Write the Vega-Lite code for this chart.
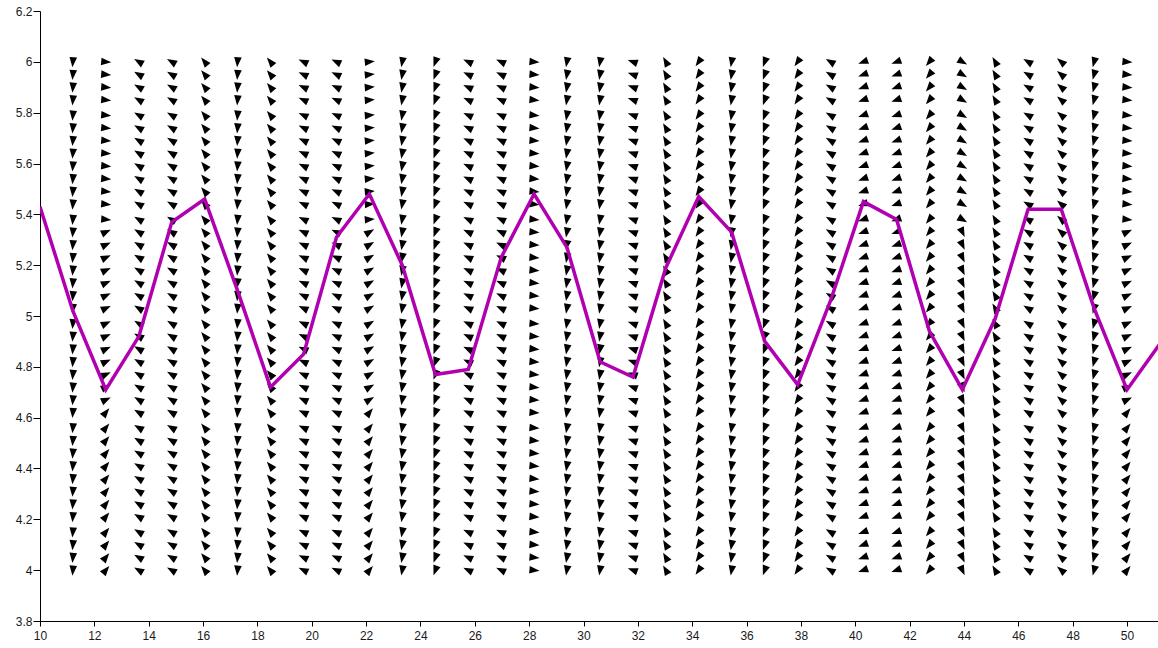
{
"$schema":"https://vega.github.io/schema/vega-lite/v6.json",
"width":1118,"height":610,
"autosize":{"type":"none"},
"padding":{"left":40,"top":11,"right":0,"bottom":27},
"background":"white",
"config":{"view":{"stroke":null},"axis":{"labelFont":"Liberation Sans","labelFontSize":12,"labelColor":"#1a1a1a","domainColor":"#000","domainWidth":1,"tickColor":"#000","tickWidth":1,"grid":false,"title":null,"labelOverlap":false,"labelFlush":false}},
"datasets":{
"curve":[{"x":10,"y":5.43},{"x":11.21,"y":5.02},{"x":12.42,"y":4.71},{"x":13.64,"y":4.92},{"x":14.85,"y":5.37},{"x":16.06,"y":5.46},{"x":17.27,"y":5.1},{"x":18.48,"y":4.72},{"x":19.7,"y":4.85},{"x":20.91,"y":5.31},{"x":22.12,"y":5.48},{"x":23.33,"y":5.2},{"x":24.55,"y":4.77},{"x":25.76,"y":4.79},{"x":26.97,"y":5.23},{"x":28.18,"y":5.48},{"x":29.39,"y":5.27},{"x":30.61,"y":4.82},{"x":31.82,"y":4.76},{"x":33.03,"y":5.19},{"x":34.24,"y":5.47},{"x":35.45,"y":5.33},{"x":36.67,"y":4.9},{"x":37.88,"y":4.73},{"x":39.09,"y":5.06},{"x":40.3,"y":5.45},{"x":41.52,"y":5.38},{"x":42.73,"y":4.94},{"x":43.94,"y":4.71},{"x":45.15,"y":4.99},{"x":46.36,"y":5.42},{"x":47.58,"y":5.42},{"x":48.79,"y":5.03},{"x":50,"y":4.71},{"x":51.21,"y":4.89}],
"arrows":[
{"x":11.21,"y":4,"a":185},{"x":11.21,"y":4.05,"a":185},{"x":11.21,"y":4.1,"a":185},{"x":11.21,"y":4.15,"a":185},{"x":11.21,"y":4.21,"a":185},{"x":11.21,"y":4.26,"a":185},{"x":11.21,"y":4.31,"a":185},{"x":11.21,"y":4.36,"a":185},{"x":11.21,"y":4.41,"a":185},{"x":11.21,"y":4.46,"a":185},{"x":11.21,"y":4.51,"a":185},{"x":11.21,"y":4.56,"a":185},{"x":11.21,"y":4.62,"a":185},{"x":11.21,"y":4.67,"a":185},{"x":11.21,"y":4.72,"a":185},{"x":11.21,"y":4.77,"a":185},{"x":11.21,"y":4.82,"a":185},{"x":11.21,"y":4.87,"a":185},{"x":11.21,"y":4.92,"a":185},{"x":11.21,"y":4.97,"a":185},{"x":11.21,"y":5.03,"a":185},{"x":11.21,"y":5.08,"a":185},{"x":11.21,"y":5.13,"a":185},{"x":11.21,"y":5.18,"a":185},{"x":11.21,"y":5.23,"a":185},{"x":11.21,"y":5.28,"a":185},{"x":11.21,"y":5.33,"a":185},{"x":11.21,"y":5.38,"a":185},{"x":11.21,"y":5.44,"a":185},{"x":11.21,"y":5.49,"a":185},{"x":11.21,"y":5.54,"a":185},{"x":11.21,"y":5.59,"a":185},{"x":11.21,"y":5.64,"a":185},{"x":11.21,"y":5.69,"a":185},{"x":11.21,"y":5.74,"a":185},{"x":11.21,"y":5.79,"a":185},{"x":11.21,"y":5.85,"a":185},{"x":11.21,"y":5.9,"a":185},{"x":11.21,"y":5.95,"a":185},{"x":11.21,"y":6,"a":185},
{"x":12.42,"y":4,"a":40},{"x":12.42,"y":4.05,"a":40},{"x":12.42,"y":4.1,"a":40},{"x":12.42,"y":4.15,"a":40},{"x":12.42,"y":4.21,"a":40},{"x":12.42,"y":4.26,"a":40},{"x":12.42,"y":4.31,"a":40},{"x":12.42,"y":4.36,"a":40},{"x":12.42,"y":4.41,"a":40},{"x":12.42,"y":4.46,"a":40},{"x":12.42,"y":4.51,"a":40},{"x":12.42,"y":4.56,"a":40},{"x":12.42,"y":4.62,"a":40},{"x":12.42,"y":4.67,"a":65},{"x":12.42,"y":4.72,"a":65},{"x":12.42,"y":4.77,"a":65},{"x":12.42,"y":4.82,"a":65},{"x":12.42,"y":4.87,"a":65},{"x":12.42,"y":4.92,"a":65},{"x":12.42,"y":4.97,"a":65},{"x":12.42,"y":5.03,"a":65},{"x":12.42,"y":5.08,"a":65},{"x":12.42,"y":5.13,"a":65},{"x":12.42,"y":5.18,"a":65},{"x":12.42,"y":5.23,"a":65},{"x":12.42,"y":5.28,"a":65},{"x":12.42,"y":5.33,"a":65},{"x":12.42,"y":5.38,"a":95},{"x":12.42,"y":5.44,"a":95},{"x":12.42,"y":5.49,"a":95},{"x":12.42,"y":5.54,"a":95},{"x":12.42,"y":5.59,"a":95},{"x":12.42,"y":5.64,"a":95},{"x":12.42,"y":5.69,"a":95},{"x":12.42,"y":5.74,"a":95},{"x":12.42,"y":5.79,"a":95},{"x":12.42,"y":5.85,"a":95},{"x":12.42,"y":5.9,"a":95},{"x":12.42,"y":5.95,"a":95},{"x":12.42,"y":6,"a":95},
{"x":13.64,"y":4,"a":300},{"x":13.64,"y":4.05,"a":300},{"x":13.64,"y":4.1,"a":300},{"x":13.64,"y":4.15,"a":300},{"x":13.64,"y":4.21,"a":300},{"x":13.64,"y":4.26,"a":300},{"x":13.64,"y":4.31,"a":300},{"x":13.64,"y":4.36,"a":300},{"x":13.64,"y":4.41,"a":300},{"x":13.64,"y":4.46,"a":300},{"x":13.64,"y":4.51,"a":300},{"x":13.64,"y":4.56,"a":300},{"x":13.64,"y":4.62,"a":300},{"x":13.64,"y":4.67,"a":300},{"x":13.64,"y":4.72,"a":300},{"x":13.64,"y":4.77,"a":300},{"x":13.64,"y":4.82,"a":300},{"x":13.64,"y":4.87,"a":300},{"x":13.64,"y":4.92,"a":300},{"x":13.64,"y":4.97,"a":300},{"x":13.64,"y":5.03,"a":300},{"x":13.64,"y":5.08,"a":300},{"x":13.64,"y":5.13,"a":300},{"x":13.64,"y":5.18,"a":300},{"x":13.64,"y":5.23,"a":300},{"x":13.64,"y":5.28,"a":300},{"x":13.64,"y":5.33,"a":300},{"x":13.64,"y":5.38,"a":300},{"x":13.64,"y":5.44,"a":300},{"x":13.64,"y":5.49,"a":300},{"x":13.64,"y":5.54,"a":300},{"x":13.64,"y":5.59,"a":300},{"x":13.64,"y":5.64,"a":300},{"x":13.64,"y":5.69,"a":300},{"x":13.64,"y":5.74,"a":300},{"x":13.64,"y":5.79,"a":300},{"x":13.64,"y":5.85,"a":300},{"x":13.64,"y":5.9,"a":300},{"x":13.64,"y":5.95,"a":300},{"x":13.64,"y":6,"a":300},
{"x":14.85,"y":4,"a":300},{"x":14.85,"y":4.05,"a":300},{"x":14.85,"y":4.1,"a":300},{"x":14.85,"y":4.15,"a":300},{"x":14.85,"y":4.21,"a":300},{"x":14.85,"y":4.26,"a":300},{"x":14.85,"y":4.31,"a":300},{"x":14.85,"y":4.36,"a":300},{"x":14.85,"y":4.41,"a":300},{"x":14.85,"y":4.46,"a":300},{"x":14.85,"y":4.51,"a":300},{"x":14.85,"y":4.56,"a":300},{"x":14.85,"y":4.62,"a":300},{"x":14.85,"y":4.67,"a":300},{"x":14.85,"y":4.72,"a":300},{"x":14.85,"y":4.77,"a":300},{"x":14.85,"y":4.82,"a":300},{"x":14.85,"y":4.87,"a":300},{"x":14.85,"y":4.92,"a":300},{"x":14.85,"y":4.97,"a":300},{"x":14.85,"y":5.03,"a":300},{"x":14.85,"y":5.08,"a":300},{"x":14.85,"y":5.13,"a":300},{"x":14.85,"y":5.18,"a":300},{"x":14.85,"y":5.23,"a":300},{"x":14.85,"y":5.28,"a":300},{"x":14.85,"y":5.33,"a":300},{"x":14.85,"y":5.38,"a":300},{"x":14.85,"y":5.44,"a":300},{"x":14.85,"y":5.49,"a":300},{"x":14.85,"y":5.54,"a":300},{"x":14.85,"y":5.59,"a":300},{"x":14.85,"y":5.64,"a":300},{"x":14.85,"y":5.69,"a":300},{"x":14.85,"y":5.74,"a":300},{"x":14.85,"y":5.79,"a":300},{"x":14.85,"y":5.85,"a":300},{"x":14.85,"y":5.9,"a":300},{"x":14.85,"y":5.95,"a":300},{"x":14.85,"y":6,"a":300},
{"x":16.06,"y":4,"a":320},{"x":16.06,"y":4.05,"a":320},{"x":16.06,"y":4.1,"a":320},{"x":16.06,"y":4.15,"a":320},{"x":16.06,"y":4.21,"a":320},{"x":16.06,"y":4.26,"a":320},{"x":16.06,"y":4.31,"a":320},{"x":16.06,"y":4.36,"a":320},{"x":16.06,"y":4.41,"a":320},{"x":16.06,"y":4.46,"a":320},{"x":16.06,"y":4.51,"a":320},{"x":16.06,"y":4.56,"a":320},{"x":16.06,"y":4.62,"a":320},{"x":16.06,"y":4.67,"a":320},{"x":16.06,"y":4.72,"a":320},{"x":16.06,"y":4.77,"a":320},{"x":16.06,"y":4.82,"a":320},{"x":16.06,"y":4.87,"a":320},{"x":16.06,"y":4.92,"a":320},{"x":16.06,"y":4.97,"a":320},{"x":16.06,"y":5.03,"a":320},{"x":16.06,"y":5.08,"a":320},{"x":16.06,"y":5.13,"a":320},{"x":16.06,"y":5.18,"a":320},{"x":16.06,"y":5.23,"a":320},{"x":16.06,"y":5.28,"a":320},{"x":16.06,"y":5.33,"a":320},{"x":16.06,"y":5.38,"a":320},{"x":16.06,"y":5.44,"a":320},{"x":16.06,"y":5.49,"a":320},{"x":16.06,"y":5.54,"a":320},{"x":16.06,"y":5.59,"a":320},{"x":16.06,"y":5.64,"a":320},{"x":16.06,"y":5.69,"a":320},{"x":16.06,"y":5.74,"a":320},{"x":16.06,"y":5.79,"a":320},{"x":16.06,"y":5.85,"a":320},{"x":16.06,"y":5.9,"a":320},{"x":16.06,"y":5.95,"a":320},{"x":16.06,"y":6,"a":320},
{"x":17.27,"y":4,"a":185},{"x":17.27,"y":4.05,"a":185},{"x":17.27,"y":4.1,"a":185},{"x":17.27,"y":4.15,"a":185},{"x":17.27,"y":4.21,"a":185},{"x":17.27,"y":4.26,"a":185},{"x":17.27,"y":4.31,"a":185},{"x":17.27,"y":4.36,"a":185},{"x":17.27,"y":4.41,"a":185},{"x":17.27,"y":4.46,"a":185},{"x":17.27,"y":4.51,"a":185},{"x":17.27,"y":4.56,"a":185},{"x":17.27,"y":4.62,"a":185},{"x":17.27,"y":4.67,"a":185},{"x":17.27,"y":4.72,"a":185},{"x":17.27,"y":4.77,"a":185},{"x":17.27,"y":4.82,"a":185},{"x":17.27,"y":4.87,"a":185},{"x":17.27,"y":4.92,"a":185},{"x":17.27,"y":4.97,"a":185},{"x":17.27,"y":5.03,"a":185},{"x":17.27,"y":5.08,"a":185},{"x":17.27,"y":5.13,"a":185},{"x":17.27,"y":5.18,"a":185},{"x":17.27,"y":5.23,"a":185},{"x":17.27,"y":5.28,"a":185},{"x":17.27,"y":5.33,"a":185},{"x":17.27,"y":5.38,"a":185},{"x":17.27,"y":5.44,"a":185},{"x":17.27,"y":5.49,"a":185},{"x":17.27,"y":5.54,"a":185},{"x":17.27,"y":5.59,"a":185},{"x":17.27,"y":5.64,"a":185},{"x":17.27,"y":5.69,"a":185},{"x":17.27,"y":5.74,"a":185},{"x":17.27,"y":5.79,"a":185},{"x":17.27,"y":5.85,"a":185},{"x":17.27,"y":5.9,"a":185},{"x":17.27,"y":5.95,"a":185},{"x":17.27,"y":6,"a":185},
{"x":18.48,"y":4,"a":320},{"x":18.48,"y":4.05,"a":320},{"x":18.48,"y":4.1,"a":320},{"x":18.48,"y":4.15,"a":320},{"x":18.48,"y":4.21,"a":320},{"x":18.48,"y":4.26,"a":320},{"x":18.48,"y":4.31,"a":320},{"x":18.48,"y":4.36,"a":320},{"x":18.48,"y":4.41,"a":320},{"x":18.48,"y":4.46,"a":320},{"x":18.48,"y":4.51,"a":320},{"x":18.48,"y":4.56,"a":320},{"x":18.48,"y":4.62,"a":320},{"x":18.48,"y":4.67,"a":320},{"x":18.48,"y":4.72,"a":320},{"x":18.48,"y":4.77,"a":320},{"x":18.48,"y":4.82,"a":320},{"x":18.48,"y":4.87,"a":320},{"x":18.48,"y":4.92,"a":320},{"x":18.48,"y":4.97,"a":320},{"x":18.48,"y":5.03,"a":320},{"x":18.48,"y":5.08,"a":320},{"x":18.48,"y":5.13,"a":320},{"x":18.48,"y":5.18,"a":320},{"x":18.48,"y":5.23,"a":320},{"x":18.48,"y":5.28,"a":320},{"x":18.48,"y":5.33,"a":320},{"x":18.48,"y":5.38,"a":320},{"x":18.48,"y":5.44,"a":320},{"x":18.48,"y":5.49,"a":320},{"x":18.48,"y":5.54,"a":320},{"x":18.48,"y":5.59,"a":320},{"x":18.48,"y":5.64,"a":320},{"x":18.48,"y":5.69,"a":320},{"x":18.48,"y":5.74,"a":320},{"x":18.48,"y":5.79,"a":320},{"x":18.48,"y":5.85,"a":320},{"x":18.48,"y":5.9,"a":320},{"x":18.48,"y":5.95,"a":320},{"x":18.48,"y":6,"a":320},
{"x":19.7,"y":4,"a":295},{"x":19.7,"y":4.05,"a":295},{"x":19.7,"y":4.1,"a":295},{"x":19.7,"y":4.15,"a":295},{"x":19.7,"y":4.21,"a":295},{"x":19.7,"y":4.26,"a":295},{"x":19.7,"y":4.31,"a":295},{"x":19.7,"y":4.36,"a":295},{"x":19.7,"y":4.41,"a":295},{"x":19.7,"y":4.46,"a":295},{"x":19.7,"y":4.51,"a":295},{"x":19.7,"y":4.56,"a":295},{"x":19.7,"y":4.62,"a":295},{"x":19.7,"y":4.67,"a":295},{"x":19.7,"y":4.72,"a":295},{"x":19.7,"y":4.77,"a":295},{"x":19.7,"y":4.82,"a":295},{"x":19.7,"y":4.87,"a":295},{"x":19.7,"y":4.92,"a":295},{"x":19.7,"y":4.97,"a":295},{"x":19.7,"y":5.03,"a":295},{"x":19.7,"y":5.08,"a":295},{"x":19.7,"y":5.13,"a":295},{"x":19.7,"y":5.18,"a":295},{"x":19.7,"y":5.23,"a":295},{"x":19.7,"y":5.28,"a":295},{"x":19.7,"y":5.33,"a":295},{"x":19.7,"y":5.38,"a":295},{"x":19.7,"y":5.44,"a":295},{"x":19.7,"y":5.49,"a":295},{"x":19.7,"y":5.54,"a":295},{"x":19.7,"y":5.59,"a":295},{"x":19.7,"y":5.64,"a":295},{"x":19.7,"y":5.69,"a":295},{"x":19.7,"y":5.74,"a":295},{"x":19.7,"y":5.79,"a":295},{"x":19.7,"y":5.85,"a":295},{"x":19.7,"y":5.9,"a":295},{"x":19.7,"y":5.95,"a":295},{"x":19.7,"y":6,"a":295},
{"x":20.91,"y":4,"a":295},{"x":20.91,"y":4.05,"a":295},{"x":20.91,"y":4.1,"a":295},{"x":20.91,"y":4.15,"a":295},{"x":20.91,"y":4.21,"a":295},{"x":20.91,"y":4.26,"a":295},{"x":20.91,"y":4.31,"a":295},{"x":20.91,"y":4.36,"a":295},{"x":20.91,"y":4.41,"a":295},{"x":20.91,"y":4.46,"a":295},{"x":20.91,"y":4.51,"a":295},{"x":20.91,"y":4.56,"a":295},{"x":20.91,"y":4.62,"a":295},{"x":20.91,"y":4.67,"a":295},{"x":20.91,"y":4.72,"a":295},{"x":20.91,"y":4.77,"a":295},{"x":20.91,"y":4.82,"a":295},{"x":20.91,"y":4.87,"a":295},{"x":20.91,"y":4.92,"a":295},{"x":20.91,"y":4.97,"a":295},{"x":20.91,"y":5.03,"a":295},{"x":20.91,"y":5.08,"a":295},{"x":20.91,"y":5.13,"a":295},{"x":20.91,"y":5.18,"a":295},{"x":20.91,"y":5.23,"a":295},{"x":20.91,"y":5.28,"a":295},{"x":20.91,"y":5.33,"a":295},{"x":20.91,"y":5.38,"a":295},{"x":20.91,"y":5.44,"a":295},{"x":20.91,"y":5.49,"a":295},{"x":20.91,"y":5.54,"a":295},{"x":20.91,"y":5.59,"a":295},{"x":20.91,"y":5.64,"a":295},{"x":20.91,"y":5.69,"a":295},{"x":20.91,"y":5.74,"a":295},{"x":20.91,"y":5.79,"a":295},{"x":20.91,"y":5.85,"a":295},{"x":20.91,"y":5.9,"a":295},{"x":20.91,"y":5.95,"a":295},{"x":20.91,"y":6,"a":295},
{"x":22.12,"y":4,"a":40},{"x":22.12,"y":4.05,"a":40},{"x":22.12,"y":4.1,"a":40},{"x":22.12,"y":4.15,"a":40},{"x":22.12,"y":4.21,"a":40},{"x":22.12,"y":4.26,"a":40},{"x":22.12,"y":4.31,"a":40},{"x":22.12,"y":4.36,"a":40},{"x":22.12,"y":4.41,"a":40},{"x":22.12,"y":4.46,"a":40},{"x":22.12,"y":4.51,"a":40},{"x":22.12,"y":4.56,"a":40},{"x":22.12,"y":4.62,"a":40},{"x":22.12,"y":4.67,"a":60},{"x":22.12,"y":4.72,"a":60},{"x":22.12,"y":4.77,"a":60},{"x":22.12,"y":4.82,"a":60},{"x":22.12,"y":4.87,"a":60},{"x":22.12,"y":4.92,"a":60},{"x":22.12,"y":4.97,"a":60},{"x":22.12,"y":5.03,"a":60},{"x":22.12,"y":5.08,"a":60},{"x":22.12,"y":5.13,"a":60},{"x":22.12,"y":5.18,"a":60},{"x":22.12,"y":5.23,"a":60},{"x":22.12,"y":5.28,"a":60},{"x":22.12,"y":5.33,"a":60},{"x":22.12,"y":5.38,"a":85},{"x":22.12,"y":5.44,"a":85},{"x":22.12,"y":5.49,"a":85},{"x":22.12,"y":5.54,"a":85},{"x":22.12,"y":5.59,"a":85},{"x":22.12,"y":5.64,"a":85},{"x":22.12,"y":5.69,"a":85},{"x":22.12,"y":5.74,"a":85},{"x":22.12,"y":5.79,"a":85},{"x":22.12,"y":5.85,"a":85},{"x":22.12,"y":5.9,"a":85},{"x":22.12,"y":5.95,"a":85},{"x":22.12,"y":6,"a":85},
{"x":23.33,"y":4,"a":190},{"x":23.33,"y":4.05,"a":190},{"x":23.33,"y":4.1,"a":190},{"x":23.33,"y":4.15,"a":190},{"x":23.33,"y":4.21,"a":190},{"x":23.33,"y":4.26,"a":190},{"x":23.33,"y":4.31,"a":190},{"x":23.33,"y":4.36,"a":190},{"x":23.33,"y":4.41,"a":190},{"x":23.33,"y":4.46,"a":190},{"x":23.33,"y":4.51,"a":190},{"x":23.33,"y":4.56,"a":190},{"x":23.33,"y":4.62,"a":190},{"x":23.33,"y":4.67,"a":190},{"x":23.33,"y":4.72,"a":190},{"x":23.33,"y":4.77,"a":190},{"x":23.33,"y":4.82,"a":190},{"x":23.33,"y":4.87,"a":190},{"x":23.33,"y":4.92,"a":190},{"x":23.33,"y":4.97,"a":190},{"x":23.33,"y":5.03,"a":190},{"x":23.33,"y":5.08,"a":190},{"x":23.33,"y":5.13,"a":190},{"x":23.33,"y":5.18,"a":190},{"x":23.33,"y":5.23,"a":190},{"x":23.33,"y":5.28,"a":190},{"x":23.33,"y":5.33,"a":190},{"x":23.33,"y":5.38,"a":190},{"x":23.33,"y":5.44,"a":190},{"x":23.33,"y":5.49,"a":190},{"x":23.33,"y":5.54,"a":190},{"x":23.33,"y":5.59,"a":190},{"x":23.33,"y":5.64,"a":190},{"x":23.33,"y":5.69,"a":190},{"x":23.33,"y":5.74,"a":190},{"x":23.33,"y":5.79,"a":190},{"x":23.33,"y":5.85,"a":190},{"x":23.33,"y":5.9,"a":190},{"x":23.33,"y":5.95,"a":190},{"x":23.33,"y":6,"a":190},
{"x":24.55,"y":4,"a":200},{"x":24.55,"y":4.05,"a":200},{"x":24.55,"y":4.1,"a":200},{"x":24.55,"y":4.15,"a":200},{"x":24.55,"y":4.21,"a":200},{"x":24.55,"y":4.26,"a":200},{"x":24.55,"y":4.31,"a":200},{"x":24.55,"y":4.36,"a":200},{"x":24.55,"y":4.41,"a":200},{"x":24.55,"y":4.46,"a":200},{"x":24.55,"y":4.51,"a":200},{"x":24.55,"y":4.56,"a":200},{"x":24.55,"y":4.62,"a":200},{"x":24.55,"y":4.67,"a":200},{"x":24.55,"y":4.72,"a":200},{"x":24.55,"y":4.77,"a":200},{"x":24.55,"y":4.82,"a":200},{"x":24.55,"y":4.87,"a":200},{"x":24.55,"y":4.92,"a":200},{"x":24.55,"y":4.97,"a":200},{"x":24.55,"y":5.03,"a":200},{"x":24.55,"y":5.08,"a":200},{"x":24.55,"y":5.13,"a":200},{"x":24.55,"y":5.18,"a":200},{"x":24.55,"y":5.23,"a":200},{"x":24.55,"y":5.28,"a":200},{"x":24.55,"y":5.33,"a":200},{"x":24.55,"y":5.38,"a":200},{"x":24.55,"y":5.44,"a":200},{"x":24.55,"y":5.49,"a":200},{"x":24.55,"y":5.54,"a":200},{"x":24.55,"y":5.59,"a":200},{"x":24.55,"y":5.64,"a":200},{"x":24.55,"y":5.69,"a":200},{"x":24.55,"y":5.74,"a":200},{"x":24.55,"y":5.79,"a":200},{"x":24.55,"y":5.85,"a":200},{"x":24.55,"y":5.9,"a":200},{"x":24.55,"y":5.95,"a":200},{"x":24.55,"y":6,"a":200},
{"x":25.76,"y":4,"a":295},{"x":25.76,"y":4.05,"a":295},{"x":25.76,"y":4.1,"a":295},{"x":25.76,"y":4.15,"a":295},{"x":25.76,"y":4.21,"a":295},{"x":25.76,"y":4.26,"a":295},{"x":25.76,"y":4.31,"a":295},{"x":25.76,"y":4.36,"a":295},{"x":25.76,"y":4.41,"a":295},{"x":25.76,"y":4.46,"a":295},{"x":25.76,"y":4.51,"a":295},{"x":25.76,"y":4.56,"a":295},{"x":25.76,"y":4.62,"a":295},{"x":25.76,"y":4.67,"a":295},{"x":25.76,"y":4.72,"a":295},{"x":25.76,"y":4.77,"a":295},{"x":25.76,"y":4.82,"a":295},{"x":25.76,"y":4.87,"a":295},{"x":25.76,"y":4.92,"a":295},{"x":25.76,"y":4.97,"a":295},{"x":25.76,"y":5.03,"a":295},{"x":25.76,"y":5.08,"a":295},{"x":25.76,"y":5.13,"a":295},{"x":25.76,"y":5.18,"a":295},{"x":25.76,"y":5.23,"a":295},{"x":25.76,"y":5.28,"a":295},{"x":25.76,"y":5.33,"a":295},{"x":25.76,"y":5.38,"a":295},{"x":25.76,"y":5.44,"a":295},{"x":25.76,"y":5.49,"a":295},{"x":25.76,"y":5.54,"a":295},{"x":25.76,"y":5.59,"a":295},{"x":25.76,"y":5.64,"a":295},{"x":25.76,"y":5.69,"a":295},{"x":25.76,"y":5.74,"a":295},{"x":25.76,"y":5.79,"a":295},{"x":25.76,"y":5.85,"a":295},{"x":25.76,"y":5.9,"a":295},{"x":25.76,"y":5.95,"a":295},{"x":25.76,"y":6,"a":295},
{"x":26.97,"y":4,"a":295},{"x":26.97,"y":4.05,"a":295},{"x":26.97,"y":4.1,"a":295},{"x":26.97,"y":4.15,"a":295},{"x":26.97,"y":4.21,"a":295},{"x":26.97,"y":4.26,"a":295},{"x":26.97,"y":4.31,"a":295},{"x":26.97,"y":4.36,"a":295},{"x":26.97,"y":4.41,"a":295},{"x":26.97,"y":4.46,"a":295},{"x":26.97,"y":4.51,"a":295},{"x":26.97,"y":4.56,"a":295},{"x":26.97,"y":4.62,"a":295},{"x":26.97,"y":4.67,"a":295},{"x":26.97,"y":4.72,"a":295},{"x":26.97,"y":4.77,"a":295},{"x":26.97,"y":4.82,"a":295},{"x":26.97,"y":4.87,"a":295},{"x":26.97,"y":4.92,"a":295},{"x":26.97,"y":4.97,"a":295},{"x":26.97,"y":5.03,"a":295},{"x":26.97,"y":5.08,"a":295},{"x":26.97,"y":5.13,"a":295},{"x":26.97,"y":5.18,"a":295},{"x":26.97,"y":5.23,"a":295},{"x":26.97,"y":5.28,"a":295},{"x":26.97,"y":5.33,"a":295},{"x":26.97,"y":5.38,"a":295},{"x":26.97,"y":5.44,"a":295},{"x":26.97,"y":5.49,"a":295},{"x":26.97,"y":5.54,"a":295},{"x":26.97,"y":5.59,"a":295},{"x":26.97,"y":5.64,"a":295},{"x":26.97,"y":5.69,"a":295},{"x":26.97,"y":5.74,"a":295},{"x":26.97,"y":5.79,"a":295},{"x":26.97,"y":5.85,"a":295},{"x":26.97,"y":5.9,"a":295},{"x":26.97,"y":5.95,"a":295},{"x":26.97,"y":6,"a":295},
{"x":28.18,"y":4,"a":95},{"x":28.18,"y":4.05,"a":95},{"x":28.18,"y":4.1,"a":95},{"x":28.18,"y":4.15,"a":95},{"x":28.18,"y":4.21,"a":95},{"x":28.18,"y":4.26,"a":95},{"x":28.18,"y":4.31,"a":95},{"x":28.18,"y":4.36,"a":95},{"x":28.18,"y":4.41,"a":95},{"x":28.18,"y":4.46,"a":95},{"x":28.18,"y":4.51,"a":95},{"x":28.18,"y":4.56,"a":95},{"x":28.18,"y":4.62,"a":95},{"x":28.18,"y":4.67,"a":95},{"x":28.18,"y":4.72,"a":95},{"x":28.18,"y":4.77,"a":95},{"x":28.18,"y":4.82,"a":95},{"x":28.18,"y":4.87,"a":95},{"x":28.18,"y":4.92,"a":95},{"x":28.18,"y":4.97,"a":95},{"x":28.18,"y":5.03,"a":95},{"x":28.18,"y":5.08,"a":95},{"x":28.18,"y":5.13,"a":95},{"x":28.18,"y":5.18,"a":95},{"x":28.18,"y":5.23,"a":95},{"x":28.18,"y":5.28,"a":95},{"x":28.18,"y":5.33,"a":95},{"x":28.18,"y":5.38,"a":95},{"x":28.18,"y":5.44,"a":95},{"x":28.18,"y":5.49,"a":95},{"x":28.18,"y":5.54,"a":95},{"x":28.18,"y":5.59,"a":95},{"x":28.18,"y":5.64,"a":95},{"x":28.18,"y":5.69,"a":95},{"x":28.18,"y":5.74,"a":95},{"x":28.18,"y":5.79,"a":95},{"x":28.18,"y":5.85,"a":95},{"x":28.18,"y":5.9,"a":95},{"x":28.18,"y":5.95,"a":95},{"x":28.18,"y":6,"a":95},
{"x":29.39,"y":4,"a":190},{"x":29.39,"y":4.05,"a":190},{"x":29.39,"y":4.1,"a":190},{"x":29.39,"y":4.15,"a":190},{"x":29.39,"y":4.21,"a":190},{"x":29.39,"y":4.26,"a":190},{"x":29.39,"y":4.31,"a":190},{"x":29.39,"y":4.36,"a":190},{"x":29.39,"y":4.41,"a":190},{"x":29.39,"y":4.46,"a":190},{"x":29.39,"y":4.51,"a":190},{"x":29.39,"y":4.56,"a":190},{"x":29.39,"y":4.62,"a":190},{"x":29.39,"y":4.67,"a":190},{"x":29.39,"y":4.72,"a":190},{"x":29.39,"y":4.77,"a":190},{"x":29.39,"y":4.82,"a":190},{"x":29.39,"y":4.87,"a":190},{"x":29.39,"y":4.92,"a":190},{"x":29.39,"y":4.97,"a":190},{"x":29.39,"y":5.03,"a":190},{"x":29.39,"y":5.08,"a":190},{"x":29.39,"y":5.13,"a":190},{"x":29.39,"y":5.18,"a":190},{"x":29.39,"y":5.23,"a":190},{"x":29.39,"y":5.28,"a":190},{"x":29.39,"y":5.33,"a":190},{"x":29.39,"y":5.38,"a":190},{"x":29.39,"y":5.44,"a":190},{"x":29.39,"y":5.49,"a":190},{"x":29.39,"y":5.54,"a":190},{"x":29.39,"y":5.59,"a":190},{"x":29.39,"y":5.64,"a":190},{"x":29.39,"y":5.69,"a":190},{"x":29.39,"y":5.74,"a":190},{"x":29.39,"y":5.79,"a":190},{"x":29.39,"y":5.85,"a":190},{"x":29.39,"y":5.9,"a":190},{"x":29.39,"y":5.95,"a":190},{"x":29.39,"y":6,"a":190},
{"x":30.61,"y":4,"a":190},{"x":30.61,"y":4.05,"a":190},{"x":30.61,"y":4.1,"a":190},{"x":30.61,"y":4.15,"a":190},{"x":30.61,"y":4.21,"a":190},{"x":30.61,"y":4.26,"a":190},{"x":30.61,"y":4.31,"a":190},{"x":30.61,"y":4.36,"a":190},{"x":30.61,"y":4.41,"a":190},{"x":30.61,"y":4.46,"a":190},{"x":30.61,"y":4.51,"a":190},{"x":30.61,"y":4.56,"a":190},{"x":30.61,"y":4.62,"a":190},{"x":30.61,"y":4.67,"a":190},{"x":30.61,"y":4.72,"a":190},{"x":30.61,"y":4.77,"a":190},{"x":30.61,"y":4.82,"a":190},{"x":30.61,"y":4.87,"a":190},{"x":30.61,"y":4.92,"a":190},{"x":30.61,"y":4.97,"a":190},{"x":30.61,"y":5.03,"a":190},{"x":30.61,"y":5.08,"a":190},{"x":30.61,"y":5.13,"a":190},{"x":30.61,"y":5.18,"a":190},{"x":30.61,"y":5.23,"a":190},{"x":30.61,"y":5.28,"a":190},{"x":30.61,"y":5.33,"a":190},{"x":30.61,"y":5.38,"a":190},{"x":30.61,"y":5.44,"a":190},{"x":30.61,"y":5.49,"a":190},{"x":30.61,"y":5.54,"a":190},{"x":30.61,"y":5.59,"a":190},{"x":30.61,"y":5.64,"a":190},{"x":30.61,"y":5.69,"a":190},{"x":30.61,"y":5.74,"a":190},{"x":30.61,"y":5.79,"a":190},{"x":30.61,"y":5.85,"a":190},{"x":30.61,"y":5.9,"a":190},{"x":30.61,"y":5.95,"a":190},{"x":30.61,"y":6,"a":190},
{"x":31.82,"y":4,"a":290},{"x":31.82,"y":4.05,"a":290},{"x":31.82,"y":4.1,"a":290},{"x":31.82,"y":4.15,"a":290},{"x":31.82,"y":4.21,"a":290},{"x":31.82,"y":4.26,"a":290},{"x":31.82,"y":4.31,"a":290},{"x":31.82,"y":4.36,"a":290},{"x":31.82,"y":4.41,"a":290},{"x":31.82,"y":4.46,"a":290},{"x":31.82,"y":4.51,"a":290},{"x":31.82,"y":4.56,"a":290},{"x":31.82,"y":4.62,"a":290},{"x":31.82,"y":4.67,"a":290},{"x":31.82,"y":4.72,"a":290},{"x":31.82,"y":4.77,"a":290},{"x":31.82,"y":4.82,"a":290},{"x":31.82,"y":4.87,"a":290},{"x":31.82,"y":4.92,"a":290},{"x":31.82,"y":4.97,"a":290},{"x":31.82,"y":5.03,"a":290},{"x":31.82,"y":5.08,"a":290},{"x":31.82,"y":5.13,"a":290},{"x":31.82,"y":5.18,"a":290},{"x":31.82,"y":5.23,"a":290},{"x":31.82,"y":5.28,"a":290},{"x":31.82,"y":5.33,"a":290},{"x":31.82,"y":5.38,"a":290},{"x":31.82,"y":5.44,"a":290},{"x":31.82,"y":5.49,"a":290},{"x":31.82,"y":5.54,"a":290},{"x":31.82,"y":5.59,"a":290},{"x":31.82,"y":5.64,"a":290},{"x":31.82,"y":5.69,"a":290},{"x":31.82,"y":5.74,"a":290},{"x":31.82,"y":5.79,"a":290},{"x":31.82,"y":5.85,"a":290},{"x":31.82,"y":5.9,"a":290},{"x":31.82,"y":5.95,"a":290},{"x":31.82,"y":6,"a":290},
{"x":33.03,"y":4,"a":330},{"x":33.03,"y":4.05,"a":330},{"x":33.03,"y":4.1,"a":330},{"x":33.03,"y":4.15,"a":330},{"x":33.03,"y":4.21,"a":330},{"x":33.03,"y":4.26,"a":330},{"x":33.03,"y":4.31,"a":330},{"x":33.03,"y":4.36,"a":330},{"x":33.03,"y":4.41,"a":330},{"x":33.03,"y":4.46,"a":330},{"x":33.03,"y":4.51,"a":330},{"x":33.03,"y":4.56,"a":330},{"x":33.03,"y":4.62,"a":330},{"x":33.03,"y":4.67,"a":330},{"x":33.03,"y":4.72,"a":330},{"x":33.03,"y":4.77,"a":330},{"x":33.03,"y":4.82,"a":330},{"x":33.03,"y":4.87,"a":330},{"x":33.03,"y":4.92,"a":330},{"x":33.03,"y":4.97,"a":330},{"x":33.03,"y":5.03,"a":330},{"x":33.03,"y":5.08,"a":330},{"x":33.03,"y":5.13,"a":330},{"x":33.03,"y":5.18,"a":330},{"x":33.03,"y":5.23,"a":330},{"x":33.03,"y":5.28,"a":330},{"x":33.03,"y":5.33,"a":330},{"x":33.03,"y":5.38,"a":330},{"x":33.03,"y":5.44,"a":330},{"x":33.03,"y":5.49,"a":330},{"x":33.03,"y":5.54,"a":330},{"x":33.03,"y":5.59,"a":330},{"x":33.03,"y":5.64,"a":330},{"x":33.03,"y":5.69,"a":330},{"x":33.03,"y":5.74,"a":330},{"x":33.03,"y":5.79,"a":330},{"x":33.03,"y":5.85,"a":330},{"x":33.03,"y":5.9,"a":330},{"x":33.03,"y":5.95,"a":330},{"x":33.03,"y":6,"a":330},
{"x":34.24,"y":4,"a":215},{"x":34.24,"y":4.05,"a":215},{"x":34.24,"y":4.1,"a":215},{"x":34.24,"y":4.15,"a":215},{"x":34.24,"y":4.21,"a":215},{"x":34.24,"y":4.26,"a":215},{"x":34.24,"y":4.31,"a":215},{"x":34.24,"y":4.36,"a":215},{"x":34.24,"y":4.41,"a":215},{"x":34.24,"y":4.46,"a":215},{"x":34.24,"y":4.51,"a":215},{"x":34.24,"y":4.56,"a":215},{"x":34.24,"y":4.62,"a":215},{"x":34.24,"y":4.67,"a":215},{"x":34.24,"y":4.72,"a":215},{"x":34.24,"y":4.77,"a":215},{"x":34.24,"y":4.82,"a":215},{"x":34.24,"y":4.87,"a":215},{"x":34.24,"y":4.92,"a":215},{"x":34.24,"y":4.97,"a":215},{"x":34.24,"y":5.03,"a":215},{"x":34.24,"y":5.08,"a":215},{"x":34.24,"y":5.13,"a":215},{"x":34.24,"y":5.18,"a":215},{"x":34.24,"y":5.23,"a":215},{"x":34.24,"y":5.28,"a":215},{"x":34.24,"y":5.33,"a":215},{"x":34.24,"y":5.38,"a":215},{"x":34.24,"y":5.44,"a":215},{"x":34.24,"y":5.49,"a":215},{"x":34.24,"y":5.54,"a":215},{"x":34.24,"y":5.59,"a":215},{"x":34.24,"y":5.64,"a":215},{"x":34.24,"y":5.69,"a":215},{"x":34.24,"y":5.74,"a":215},{"x":34.24,"y":5.79,"a":215},{"x":34.24,"y":5.85,"a":215},{"x":34.24,"y":5.9,"a":215},{"x":34.24,"y":5.95,"a":215},{"x":34.24,"y":6,"a":215},
{"x":35.45,"y":4,"a":190},{"x":35.45,"y":4.05,"a":190},{"x":35.45,"y":4.1,"a":190},{"x":35.45,"y":4.15,"a":190},{"x":35.45,"y":4.21,"a":190},{"x":35.45,"y":4.26,"a":190},{"x":35.45,"y":4.31,"a":190},{"x":35.45,"y":4.36,"a":190},{"x":35.45,"y":4.41,"a":190},{"x":35.45,"y":4.46,"a":190},{"x":35.45,"y":4.51,"a":190},{"x":35.45,"y":4.56,"a":190},{"x":35.45,"y":4.62,"a":190},{"x":35.45,"y":4.67,"a":190},{"x":35.45,"y":4.72,"a":190},{"x":35.45,"y":4.77,"a":190},{"x":35.45,"y":4.82,"a":190},{"x":35.45,"y":4.87,"a":190},{"x":35.45,"y":4.92,"a":190},{"x":35.45,"y":4.97,"a":190},{"x":35.45,"y":5.03,"a":190},{"x":35.45,"y":5.08,"a":190},{"x":35.45,"y":5.13,"a":190},{"x":35.45,"y":5.18,"a":190},{"x":35.45,"y":5.23,"a":190},{"x":35.45,"y":5.28,"a":190},{"x":35.45,"y":5.33,"a":190},{"x":35.45,"y":5.38,"a":190},{"x":35.45,"y":5.44,"a":190},{"x":35.45,"y":5.49,"a":190},{"x":35.45,"y":5.54,"a":190},{"x":35.45,"y":5.59,"a":190},{"x":35.45,"y":5.64,"a":190},{"x":35.45,"y":5.69,"a":190},{"x":35.45,"y":5.74,"a":190},{"x":35.45,"y":5.79,"a":190},{"x":35.45,"y":5.85,"a":190},{"x":35.45,"y":5.9,"a":190},{"x":35.45,"y":5.95,"a":190},{"x":35.45,"y":6,"a":190},
{"x":36.67,"y":4,"a":200},{"x":36.67,"y":4.05,"a":200},{"x":36.67,"y":4.1,"a":200},{"x":36.67,"y":4.15,"a":200},{"x":36.67,"y":4.21,"a":200},{"x":36.67,"y":4.26,"a":200},{"x":36.67,"y":4.31,"a":200},{"x":36.67,"y":4.36,"a":200},{"x":36.67,"y":4.41,"a":200},{"x":36.67,"y":4.46,"a":200},{"x":36.67,"y":4.51,"a":200},{"x":36.67,"y":4.56,"a":200},{"x":36.67,"y":4.62,"a":200},{"x":36.67,"y":4.67,"a":200},{"x":36.67,"y":4.72,"a":200},{"x":36.67,"y":4.77,"a":200},{"x":36.67,"y":4.82,"a":200},{"x":36.67,"y":4.87,"a":200},{"x":36.67,"y":4.92,"a":200},{"x":36.67,"y":4.97,"a":200},{"x":36.67,"y":5.03,"a":200},{"x":36.67,"y":5.08,"a":200},{"x":36.67,"y":5.13,"a":200},{"x":36.67,"y":5.18,"a":200},{"x":36.67,"y":5.23,"a":200},{"x":36.67,"y":5.28,"a":200},{"x":36.67,"y":5.33,"a":200},{"x":36.67,"y":5.38,"a":200},{"x":36.67,"y":5.44,"a":200},{"x":36.67,"y":5.49,"a":200},{"x":36.67,"y":5.54,"a":200},{"x":36.67,"y":5.59,"a":200},{"x":36.67,"y":5.64,"a":200},{"x":36.67,"y":5.69,"a":200},{"x":36.67,"y":5.74,"a":200},{"x":36.67,"y":5.79,"a":200},{"x":36.67,"y":5.85,"a":200},{"x":36.67,"y":5.9,"a":200},{"x":36.67,"y":5.95,"a":200},{"x":36.67,"y":6,"a":200},
{"x":37.88,"y":4,"a":215},{"x":37.88,"y":4.05,"a":215},{"x":37.88,"y":4.1,"a":215},{"x":37.88,"y":4.15,"a":215},{"x":37.88,"y":4.21,"a":215},{"x":37.88,"y":4.26,"a":215},{"x":37.88,"y":4.31,"a":215},{"x":37.88,"y":4.36,"a":215},{"x":37.88,"y":4.41,"a":215},{"x":37.88,"y":4.46,"a":215},{"x":37.88,"y":4.51,"a":215},{"x":37.88,"y":4.56,"a":215},{"x":37.88,"y":4.62,"a":215},{"x":37.88,"y":4.67,"a":215},{"x":37.88,"y":4.72,"a":215},{"x":37.88,"y":4.77,"a":215},{"x":37.88,"y":4.82,"a":215},{"x":37.88,"y":4.87,"a":215},{"x":37.88,"y":4.92,"a":215},{"x":37.88,"y":4.97,"a":215},{"x":37.88,"y":5.03,"a":215},{"x":37.88,"y":5.08,"a":215},{"x":37.88,"y":5.13,"a":215},{"x":37.88,"y":5.18,"a":215},{"x":37.88,"y":5.23,"a":215},{"x":37.88,"y":5.28,"a":215},{"x":37.88,"y":5.33,"a":215},{"x":37.88,"y":5.38,"a":215},{"x":37.88,"y":5.44,"a":215},{"x":37.88,"y":5.49,"a":215},{"x":37.88,"y":5.54,"a":215},{"x":37.88,"y":5.59,"a":215},{"x":37.88,"y":5.64,"a":215},{"x":37.88,"y":5.69,"a":215},{"x":37.88,"y":5.74,"a":215},{"x":37.88,"y":5.79,"a":215},{"x":37.88,"y":5.85,"a":215},{"x":37.88,"y":5.9,"a":215},{"x":37.88,"y":5.95,"a":215},{"x":37.88,"y":6,"a":215},
{"x":39.09,"y":4,"a":300},{"x":39.09,"y":4.05,"a":300},{"x":39.09,"y":4.1,"a":300},{"x":39.09,"y":4.15,"a":300},{"x":39.09,"y":4.21,"a":300},{"x":39.09,"y":4.26,"a":300},{"x":39.09,"y":4.31,"a":300},{"x":39.09,"y":4.36,"a":300},{"x":39.09,"y":4.41,"a":300},{"x":39.09,"y":4.46,"a":300},{"x":39.09,"y":4.51,"a":300},{"x":39.09,"y":4.56,"a":300},{"x":39.09,"y":4.62,"a":300},{"x":39.09,"y":4.67,"a":300},{"x":39.09,"y":4.72,"a":300},{"x":39.09,"y":4.77,"a":300},{"x":39.09,"y":4.82,"a":300},{"x":39.09,"y":4.87,"a":300},{"x":39.09,"y":4.92,"a":300},{"x":39.09,"y":4.97,"a":300},{"x":39.09,"y":5.03,"a":300},{"x":39.09,"y":5.08,"a":300},{"x":39.09,"y":5.13,"a":300},{"x":39.09,"y":5.18,"a":300},{"x":39.09,"y":5.23,"a":300},{"x":39.09,"y":5.28,"a":300},{"x":39.09,"y":5.33,"a":300},{"x":39.09,"y":5.38,"a":300},{"x":39.09,"y":5.44,"a":300},{"x":39.09,"y":5.49,"a":300},{"x":39.09,"y":5.54,"a":300},{"x":39.09,"y":5.59,"a":300},{"x":39.09,"y":5.64,"a":300},{"x":39.09,"y":5.69,"a":300},{"x":39.09,"y":5.74,"a":300},{"x":39.09,"y":5.79,"a":300},{"x":39.09,"y":5.85,"a":300},{"x":39.09,"y":5.9,"a":300},{"x":39.09,"y":5.95,"a":300},{"x":39.09,"y":6,"a":300},
{"x":40.3,"y":4,"a":250},{"x":40.3,"y":4.05,"a":250},{"x":40.3,"y":4.1,"a":250},{"x":40.3,"y":4.15,"a":250},{"x":40.3,"y":4.21,"a":250},{"x":40.3,"y":4.26,"a":250},{"x":40.3,"y":4.31,"a":250},{"x":40.3,"y":4.36,"a":250},{"x":40.3,"y":4.41,"a":250},{"x":40.3,"y":4.46,"a":250},{"x":40.3,"y":4.51,"a":250},{"x":40.3,"y":4.56,"a":250},{"x":40.3,"y":4.62,"a":250},{"x":40.3,"y":4.67,"a":250},{"x":40.3,"y":4.72,"a":250},{"x":40.3,"y":4.77,"a":250},{"x":40.3,"y":4.82,"a":250},{"x":40.3,"y":4.87,"a":250},{"x":40.3,"y":4.92,"a":250},{"x":40.3,"y":4.97,"a":250},{"x":40.3,"y":5.03,"a":250},{"x":40.3,"y":5.08,"a":250},{"x":40.3,"y":5.13,"a":250},{"x":40.3,"y":5.18,"a":250},{"x":40.3,"y":5.23,"a":250},{"x":40.3,"y":5.28,"a":250},{"x":40.3,"y":5.33,"a":250},{"x":40.3,"y":5.38,"a":250},{"x":40.3,"y":5.44,"a":250},{"x":40.3,"y":5.49,"a":250},{"x":40.3,"y":5.54,"a":250},{"x":40.3,"y":5.59,"a":250},{"x":40.3,"y":5.64,"a":250},{"x":40.3,"y":5.69,"a":250},{"x":40.3,"y":5.74,"a":250},{"x":40.3,"y":5.79,"a":250},{"x":40.3,"y":5.85,"a":250},{"x":40.3,"y":5.9,"a":250},{"x":40.3,"y":5.95,"a":250},{"x":40.3,"y":6,"a":250},
{"x":41.52,"y":4,"a":250},{"x":41.52,"y":4.05,"a":250},{"x":41.52,"y":4.1,"a":250},{"x":41.52,"y":4.15,"a":250},{"x":41.52,"y":4.21,"a":250},{"x":41.52,"y":4.26,"a":250},{"x":41.52,"y":4.31,"a":250},{"x":41.52,"y":4.36,"a":250},{"x":41.52,"y":4.41,"a":250},{"x":41.52,"y":4.46,"a":250},{"x":41.52,"y":4.51,"a":250},{"x":41.52,"y":4.56,"a":250},{"x":41.52,"y":4.62,"a":250},{"x":41.52,"y":4.67,"a":250},{"x":41.52,"y":4.72,"a":250},{"x":41.52,"y":4.77,"a":250},{"x":41.52,"y":4.82,"a":250},{"x":41.52,"y":4.87,"a":250},{"x":41.52,"y":4.92,"a":250},{"x":41.52,"y":4.97,"a":250},{"x":41.52,"y":5.03,"a":250},{"x":41.52,"y":5.08,"a":250},{"x":41.52,"y":5.13,"a":250},{"x":41.52,"y":5.18,"a":250},{"x":41.52,"y":5.23,"a":250},{"x":41.52,"y":5.28,"a":250},{"x":41.52,"y":5.33,"a":250},{"x":41.52,"y":5.38,"a":250},{"x":41.52,"y":5.44,"a":250},{"x":41.52,"y":5.49,"a":250},{"x":41.52,"y":5.54,"a":250},{"x":41.52,"y":5.59,"a":250},{"x":41.52,"y":5.64,"a":250},{"x":41.52,"y":5.69,"a":250},{"x":41.52,"y":5.74,"a":250},{"x":41.52,"y":5.79,"a":250},{"x":41.52,"y":5.85,"a":250},{"x":41.52,"y":5.9,"a":250},{"x":41.52,"y":5.95,"a":250},{"x":41.52,"y":6,"a":250},
{"x":42.73,"y":4,"a":220},{"x":42.73,"y":4.05,"a":220},{"x":42.73,"y":4.1,"a":220},{"x":42.73,"y":4.15,"a":220},{"x":42.73,"y":4.21,"a":220},{"x":42.73,"y":4.26,"a":220},{"x":42.73,"y":4.31,"a":220},{"x":42.73,"y":4.36,"a":220},{"x":42.73,"y":4.41,"a":220},{"x":42.73,"y":4.46,"a":220},{"x":42.73,"y":4.51,"a":220},{"x":42.73,"y":4.56,"a":220},{"x":42.73,"y":4.62,"a":220},{"x":42.73,"y":4.67,"a":220},{"x":42.73,"y":4.72,"a":220},{"x":42.73,"y":4.77,"a":220},{"x":42.73,"y":4.82,"a":220},{"x":42.73,"y":4.87,"a":220},{"x":42.73,"y":4.92,"a":220},{"x":42.73,"y":4.97,"a":220},{"x":42.73,"y":5.03,"a":220},{"x":42.73,"y":5.08,"a":220},{"x":42.73,"y":5.13,"a":220},{"x":42.73,"y":5.18,"a":220},{"x":42.73,"y":5.23,"a":220},{"x":42.73,"y":5.28,"a":220},{"x":42.73,"y":5.33,"a":220},{"x":42.73,"y":5.38,"a":220},{"x":42.73,"y":5.44,"a":220},{"x":42.73,"y":5.49,"a":220},{"x":42.73,"y":5.54,"a":220},{"x":42.73,"y":5.59,"a":220},{"x":42.73,"y":5.64,"a":220},{"x":42.73,"y":5.69,"a":220},{"x":42.73,"y":5.74,"a":220},{"x":42.73,"y":5.79,"a":220},{"x":42.73,"y":5.85,"a":220},{"x":42.73,"y":5.9,"a":220},{"x":42.73,"y":5.95,"a":220},{"x":42.73,"y":6,"a":220},
{"x":43.94,"y":4,"a":155},{"x":43.94,"y":4.05,"a":155},{"x":43.94,"y":4.1,"a":155},{"x":43.94,"y":4.15,"a":155},{"x":43.94,"y":4.21,"a":155},{"x":43.94,"y":4.26,"a":155},{"x":43.94,"y":4.31,"a":155},{"x":43.94,"y":4.36,"a":155},{"x":43.94,"y":4.41,"a":155},{"x":43.94,"y":4.46,"a":155},{"x":43.94,"y":4.51,"a":155},{"x":43.94,"y":4.56,"a":155},{"x":43.94,"y":4.62,"a":155},{"x":43.94,"y":4.67,"a":155},{"x":43.94,"y":4.72,"a":155},{"x":43.94,"y":4.77,"a":155},{"x":43.94,"y":4.82,"a":155},{"x":43.94,"y":4.87,"a":155},{"x":43.94,"y":4.92,"a":155},{"x":43.94,"y":4.97,"a":155},{"x":43.94,"y":5.03,"a":155},{"x":43.94,"y":5.08,"a":155},{"x":43.94,"y":5.13,"a":155},{"x":43.94,"y":5.18,"a":155},{"x":43.94,"y":5.23,"a":155},{"x":43.94,"y":5.28,"a":155},{"x":43.94,"y":5.33,"a":155},{"x":43.94,"y":5.38,"a":120},{"x":43.94,"y":5.44,"a":120},{"x":43.94,"y":5.49,"a":120},{"x":43.94,"y":5.54,"a":120},{"x":43.94,"y":5.59,"a":120},{"x":43.94,"y":5.64,"a":120},{"x":43.94,"y":5.69,"a":120},{"x":43.94,"y":5.74,"a":120},{"x":43.94,"y":5.79,"a":120},{"x":43.94,"y":5.85,"a":120},{"x":43.94,"y":5.9,"a":120},{"x":43.94,"y":5.95,"a":120},{"x":43.94,"y":6,"a":120},
{"x":45.15,"y":4,"a":330},{"x":45.15,"y":4.05,"a":330},{"x":45.15,"y":4.1,"a":330},{"x":45.15,"y":4.15,"a":330},{"x":45.15,"y":4.21,"a":330},{"x":45.15,"y":4.26,"a":330},{"x":45.15,"y":4.31,"a":330},{"x":45.15,"y":4.36,"a":330},{"x":45.15,"y":4.41,"a":330},{"x":45.15,"y":4.46,"a":330},{"x":45.15,"y":4.51,"a":330},{"x":45.15,"y":4.56,"a":330},{"x":45.15,"y":4.62,"a":330},{"x":45.15,"y":4.67,"a":330},{"x":45.15,"y":4.72,"a":330},{"x":45.15,"y":4.77,"a":330},{"x":45.15,"y":4.82,"a":330},{"x":45.15,"y":4.87,"a":330},{"x":45.15,"y":4.92,"a":330},{"x":45.15,"y":4.97,"a":330},{"x":45.15,"y":5.03,"a":330},{"x":45.15,"y":5.08,"a":330},{"x":45.15,"y":5.13,"a":330},{"x":45.15,"y":5.18,"a":330},{"x":45.15,"y":5.23,"a":330},{"x":45.15,"y":5.28,"a":330},{"x":45.15,"y":5.33,"a":330},{"x":45.15,"y":5.38,"a":330},{"x":45.15,"y":5.44,"a":330},{"x":45.15,"y":5.49,"a":330},{"x":45.15,"y":5.54,"a":330},{"x":45.15,"y":5.59,"a":330},{"x":45.15,"y":5.64,"a":330},{"x":45.15,"y":5.69,"a":330},{"x":45.15,"y":5.74,"a":330},{"x":45.15,"y":5.79,"a":330},{"x":45.15,"y":5.85,"a":330},{"x":45.15,"y":5.9,"a":330},{"x":45.15,"y":5.95,"a":330},{"x":45.15,"y":6,"a":330},
{"x":46.36,"y":4,"a":300},{"x":46.36,"y":4.05,"a":300},{"x":46.36,"y":4.1,"a":300},{"x":46.36,"y":4.15,"a":300},{"x":46.36,"y":4.21,"a":300},{"x":46.36,"y":4.26,"a":300},{"x":46.36,"y":4.31,"a":300},{"x":46.36,"y":4.36,"a":300},{"x":46.36,"y":4.41,"a":300},{"x":46.36,"y":4.46,"a":300},{"x":46.36,"y":4.51,"a":300},{"x":46.36,"y":4.56,"a":300},{"x":46.36,"y":4.62,"a":300},{"x":46.36,"y":4.67,"a":300},{"x":46.36,"y":4.72,"a":300},{"x":46.36,"y":4.77,"a":300},{"x":46.36,"y":4.82,"a":300},{"x":46.36,"y":4.87,"a":300},{"x":46.36,"y":4.92,"a":300},{"x":46.36,"y":4.97,"a":300},{"x":46.36,"y":5.03,"a":300},{"x":46.36,"y":5.08,"a":300},{"x":46.36,"y":5.13,"a":300},{"x":46.36,"y":5.18,"a":300},{"x":46.36,"y":5.23,"a":300},{"x":46.36,"y":5.28,"a":300},{"x":46.36,"y":5.33,"a":300},{"x":46.36,"y":5.38,"a":300},{"x":46.36,"y":5.44,"a":300},{"x":46.36,"y":5.49,"a":300},{"x":46.36,"y":5.54,"a":300},{"x":46.36,"y":5.59,"a":300},{"x":46.36,"y":5.64,"a":300},{"x":46.36,"y":5.69,"a":300},{"x":46.36,"y":5.74,"a":300},{"x":46.36,"y":5.79,"a":300},{"x":46.36,"y":5.85,"a":300},{"x":46.36,"y":5.9,"a":300},{"x":46.36,"y":5.95,"a":300},{"x":46.36,"y":6,"a":300},
{"x":47.58,"y":4,"a":310},{"x":47.58,"y":4.05,"a":310},{"x":47.58,"y":4.1,"a":310},{"x":47.58,"y":4.15,"a":310},{"x":47.58,"y":4.21,"a":310},{"x":47.58,"y":4.26,"a":310},{"x":47.58,"y":4.31,"a":310},{"x":47.58,"y":4.36,"a":310},{"x":47.58,"y":4.41,"a":310},{"x":47.58,"y":4.46,"a":310},{"x":47.58,"y":4.51,"a":310},{"x":47.58,"y":4.56,"a":310},{"x":47.58,"y":4.62,"a":310},{"x":47.58,"y":4.67,"a":310},{"x":47.58,"y":4.72,"a":310},{"x":47.58,"y":4.77,"a":310},{"x":47.58,"y":4.82,"a":310},{"x":47.58,"y":4.87,"a":310},{"x":47.58,"y":4.92,"a":310},{"x":47.58,"y":4.97,"a":310},{"x":47.58,"y":5.03,"a":310},{"x":47.58,"y":5.08,"a":310},{"x":47.58,"y":5.13,"a":310},{"x":47.58,"y":5.18,"a":310},{"x":47.58,"y":5.23,"a":310},{"x":47.58,"y":5.28,"a":310},{"x":47.58,"y":5.33,"a":310},{"x":47.58,"y":5.38,"a":310},{"x":47.58,"y":5.44,"a":310},{"x":47.58,"y":5.49,"a":310},{"x":47.58,"y":5.54,"a":310},{"x":47.58,"y":5.59,"a":310},{"x":47.58,"y":5.64,"a":310},{"x":47.58,"y":5.69,"a":310},{"x":47.58,"y":5.74,"a":310},{"x":47.58,"y":5.79,"a":310},{"x":47.58,"y":5.85,"a":310},{"x":47.58,"y":5.9,"a":310},{"x":47.58,"y":5.95,"a":310},{"x":47.58,"y":6,"a":310},
{"x":48.79,"y":4,"a":195},{"x":48.79,"y":4.05,"a":195},{"x":48.79,"y":4.1,"a":195},{"x":48.79,"y":4.15,"a":195},{"x":48.79,"y":4.21,"a":195},{"x":48.79,"y":4.26,"a":195},{"x":48.79,"y":4.31,"a":195},{"x":48.79,"y":4.36,"a":195},{"x":48.79,"y":4.41,"a":195},{"x":48.79,"y":4.46,"a":195},{"x":48.79,"y":4.51,"a":195},{"x":48.79,"y":4.56,"a":195},{"x":48.79,"y":4.62,"a":195},{"x":48.79,"y":4.67,"a":195},{"x":48.79,"y":4.72,"a":195},{"x":48.79,"y":4.77,"a":195},{"x":48.79,"y":4.82,"a":195},{"x":48.79,"y":4.87,"a":195},{"x":48.79,"y":4.92,"a":195},{"x":48.79,"y":4.97,"a":195},{"x":48.79,"y":5.03,"a":195},{"x":48.79,"y":5.08,"a":195},{"x":48.79,"y":5.13,"a":195},{"x":48.79,"y":5.18,"a":195},{"x":48.79,"y":5.23,"a":195},{"x":48.79,"y":5.28,"a":195},{"x":48.79,"y":5.33,"a":195},{"x":48.79,"y":5.38,"a":195},{"x":48.79,"y":5.44,"a":195},{"x":48.79,"y":5.49,"a":195},{"x":48.79,"y":5.54,"a":195},{"x":48.79,"y":5.59,"a":195},{"x":48.79,"y":5.64,"a":195},{"x":48.79,"y":5.69,"a":195},{"x":48.79,"y":5.74,"a":195},{"x":48.79,"y":5.79,"a":195},{"x":48.79,"y":5.85,"a":195},{"x":48.79,"y":5.9,"a":195},{"x":48.79,"y":5.95,"a":195},{"x":48.79,"y":6,"a":195},
{"x":50,"y":4,"a":40},{"x":50,"y":4.05,"a":40},{"x":50,"y":4.1,"a":40},{"x":50,"y":4.15,"a":40},{"x":50,"y":4.21,"a":40},{"x":50,"y":4.26,"a":40},{"x":50,"y":4.31,"a":40},{"x":50,"y":4.36,"a":40},{"x":50,"y":4.41,"a":40},{"x":50,"y":4.46,"a":40},{"x":50,"y":4.51,"a":40},{"x":50,"y":4.56,"a":40},{"x":50,"y":4.62,"a":40},{"x":50,"y":4.67,"a":65},{"x":50,"y":4.72,"a":65},{"x":50,"y":4.77,"a":65},{"x":50,"y":4.82,"a":65},{"x":50,"y":4.87,"a":65},{"x":50,"y":4.92,"a":65},{"x":50,"y":4.97,"a":65},{"x":50,"y":5.03,"a":65},{"x":50,"y":5.08,"a":65},{"x":50,"y":5.13,"a":65},{"x":50,"y":5.18,"a":65},{"x":50,"y":5.23,"a":65},{"x":50,"y":5.28,"a":65},{"x":50,"y":5.33,"a":65},{"x":50,"y":5.38,"a":95},{"x":50,"y":5.44,"a":95},{"x":50,"y":5.49,"a":95},{"x":50,"y":5.54,"a":95},{"x":50,"y":5.59,"a":95},{"x":50,"y":5.64,"a":95},{"x":50,"y":5.69,"a":95},{"x":50,"y":5.74,"a":95},{"x":50,"y":5.79,"a":95},{"x":50,"y":5.85,"a":95},{"x":50,"y":5.9,"a":95},{"x":50,"y":5.95,"a":95},{"x":50,"y":6,"a":95}
]},
"layer":[
{"data":{"name":"arrows"},
 "mark":{"type":"point","shape":"M0,-0.9L0.62,0.75L-0.62,0.75Z","filled":true,"color":"#000","opacity":1,"size":150,"strokeWidth":0},
 "encoding":{
  "x":{"field":"x","type":"quantitative","scale":{"domain":[10,51.14],"nice":false,"zero":false},
   "axis":{"values":[10,11,12,13,14,15,16,17,18,19,20,21,22,23,24,25,26,27,28,29,30,31,32,33,34,35,36,37,38,39,40,41,42,43,44,45,46,47,48,49,50,51],
    "labelExpr":"datum.value % 2 == 0 ? format(datum.value, 'd') : ''",
    "tickSize":{"condition":{"test":"datum.value % 2 == 0","value":5},"value":2},
    "labelPadding":4}},
  "y":{"field":"y","type":"quantitative","scale":{"domain":[3.8,6.2],"nice":false,"zero":false},
   "axis":{"values":[3.8,3.9,4,4.1,4.2,4.3,4.4,4.5,4.6,4.7,4.8,4.9,5,5.1,5.2,5.3,5.4,5.5,5.6,5.7,5.8,5.9,6,6.1,6.2],
    "labelExpr":"round(datum.value*10) % 2 == 0 ? format(datum.value, '~g') : ''",
    "tickSize":{"condition":{"test":"round(datum.value*10) % 2 == 0","value":7},"value":3},
    "labelPadding":1}},
  "angle":{"field":"a","type":"quantitative","scale":null}}},
{"data":{"name":"curve"},
 "mark":{"type":"line","color":"#b000b0","strokeWidth":3.5,"clip":true,"strokeJoin":"miter"},
 "encoding":{"x":{"field":"x","type":"quantitative"},"y":{"field":"y","type":"quantitative"}}}
]
}
